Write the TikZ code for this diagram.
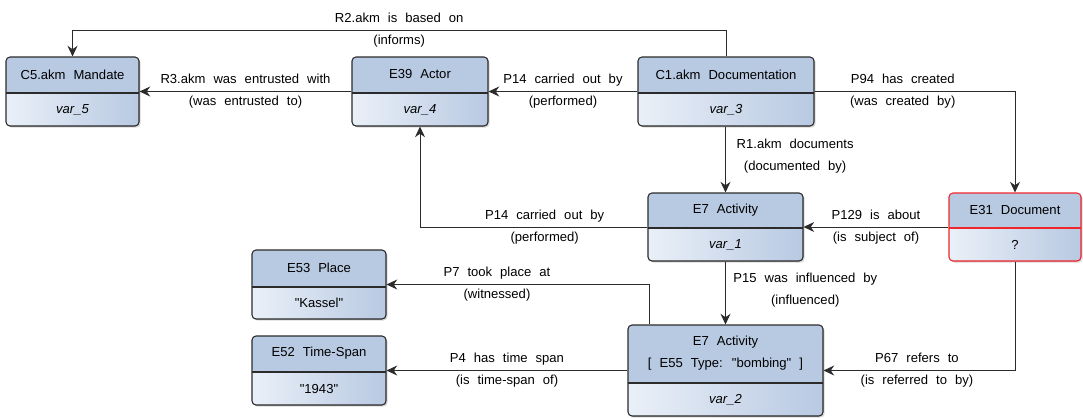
\documentclass[tikz,border=0pt]{standalone}
\usepackage{fontspec}
\setmainfont{Liberation Sans}[WordSpace=2.2]
\usepackage{tikz}
\usetikzlibrary{arrows.meta,calc,shadows}
\definecolor{headc}{HTML}{B8C9E2}
\definecolor{bodyl}{HTML}{EAF0F8}
\definecolor{bodyr}{HTML}{B8C9E2}
\definecolor{linec}{HTML}{2B2B2B}
\definecolor{redc}{HTML}{F0262B}

\tikzset{
  hdr/.store in=\hdrh, hdr=36,
  divc/.store in=\divc, divc=linec,
  crm/.style={draw=linec, line width=0.8pt, rounded corners=3pt, inner sep=0pt,
    drop shadow={shadow xshift=1.2pt, shadow yshift=-1.2pt, opacity=0.3},
    path picture={
      \fill[left color=bodyl, right color=bodyr] (path picture bounding box.south west) rectangle (path picture bounding box.north east);
      \fill[headc] (path picture bounding box.north west) rectangle ([yshift=-\hdrh*0.75pt]path picture bounding box.north east);
      \draw[\divc, line width=0.8pt] ([yshift=-\hdrh*0.75pt]path picture bounding box.north west) -- ([yshift=-\hdrh*0.75pt]path picture bounding box.north east);
    }},
  ttl/.style={align=center, inner sep=0pt},
  val/.style={inner sep=0pt},
  rel/.style={draw=linec, line width=0.75pt, -{Stealth[length=8pt, width=7.5pt]}},
  lbl/.style={align=center, inner sep=0pt, text=black},
}

% box with header row and value row: [style] name, centre, width, height, header (all px)
\newcommand{\crmnode}[8][]{%
  \node[crm, hdr=#6, #1, minimum width=#4*0.75pt, minimum height=#5*0.75pt] (#2) at (#3) {};
  \node[ttl] (#2-t) at ([yshift=-#6*0.375pt]#2.north) {#7};
  \node[val] (#2-v) at ($(#2.south)!0.5!([yshift=-#6*0.75pt]#2.north)$) {#8};
}
\newcommand{\dq}{\textquotedbl}

\begin{document}
\begin{tikzpicture}[x=0.75pt, y=-0.75pt, font=\fontsize{9.8}{16.5}\selectfont]
  \useasboundingbox (0,0) rectangle (1083,418);

  % top row
  \crmnode{c5}{72.5,91.5}{133}{69}{36}{C5.akm Mandate}{\itshape var\_5}
  \crmnode{e39}{420,91.5}{136}{69}{36}{E39 Actor}{\itshape var\_4}
  \crmnode{c1}{726,91.5}{176}{69}{36}{C1.akm Documentation}{\itshape var\_3}
  % middle row
  \crmnode{act1}{725.5,227}{155}{68}{35}{E7 Activity}{\itshape var\_1}
  \crmnode[draw=redc, divc=redc]{e31}{1015,227}{132}{68}{35}{E31 Document}{?}
  % bottom rows
  \crmnode{act2}{725.5,370.5}{195}{91}{58}{E7 Activity\\{[} E55 Type: \dq bombing\dq{} {]}}{\itshape var\_2}
  \crmnode{e53}{319,284.5}{134}{69}{37}{E53 Place}{\dq Kassel\dq}
  \crmnode{e52}{319,370.5}{134}{69}{36}{E52 Time-Span}{\dq 1943\dq}

  % relations
  \coordinate (r2top) at (c1.north |- 0,30);
  \draw[rel] (c1.north) -- (r2top) -| node[lbl, pos=0.25] (r2l) {R2.akm is based on\\(informs)} (c5.north);
  \draw[rel] (e39.west) -- node[lbl] (r3l) {R3.akm was entrusted with\\(was entrusted to)} (c5.east);
  \draw[rel] (c1.west) -- node[lbl] (p14l) {P14 carried out by\\(performed)} (e39.east);
  \draw[rel] (c1.east) -| node[lbl, pos=0.22] (p94l) {P94 has created\\(was created by)} (e31.north);
  \draw[rel] (c1.south -| act1.north) -- node[lbl, anchor=west, xshift=8pt, yshift=2.5pt] (r1l) {R1.akm documents\\(documented by)} (act1.north);
  \draw[rel] (e31.west) -- node[lbl] (p129l) {P129 is about\\(is subject of)} (act1.east);
  \draw[rel] (act1.west) -| node[lbl, pos=0.226] (p14bl) {P14 carried out by\\(performed)} (e39.south);
  \draw[rel] (act1.south) -- node[lbl, anchor=west, xshift=5.5pt, yshift=2pt] (p15l) {P15 was influenced by\\(influenced)} (act2.north);
  \draw[rel] (e31.south) |- node[lbl, pos=0.756] (p67l) {P67 refers to\\(is referred to by)} (act2.east);
  \coordinate (p7s) at ($(act2.north west)+(22,0)$);
  \draw[rel] (p7s) |- node[lbl, pos=0.79] (p7l) {P7 took place at\\(witnessed)} (e53.east);
  \draw[rel] (act2.west) -- node[lbl] (p4l) {P4 has time span\\(is time-span of)} (e52.east);
\end{tikzpicture}
\end{document}
